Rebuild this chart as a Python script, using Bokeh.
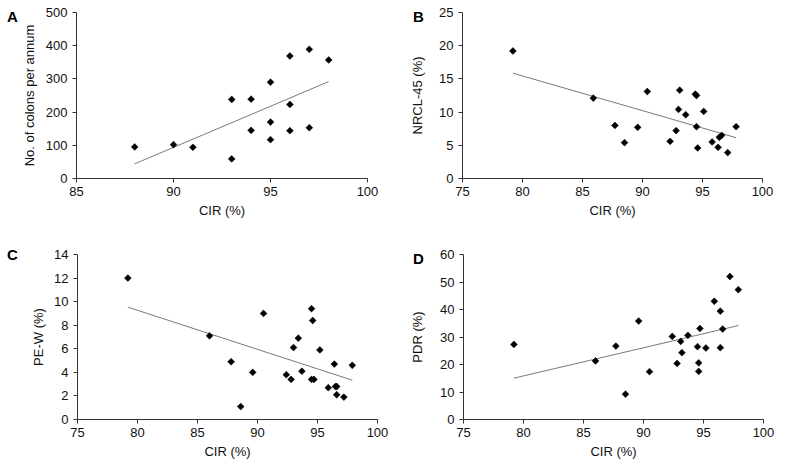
import numpy as np
from bokeh.plotting import figure
from bokeh.layouts import column, row
from bokeh.models import FixedTicker, Range1d, Div
from bokeh.embed import file_html
from bokeh.resources import INLINE

# ---- Panel A: colonoscopies per annum vs CIR ----
cir_a = [88, 90, 91, 93, 93, 94, 94, 95, 95, 95, 96, 96, 96, 97, 97, 98]
colons_a = [95, 102, 94, 238, 59, 239, 145, 290, 170, 117, 369, 223, 144, 389, 153, 357]

# ---- Panel B: NRCL-45 vs CIR ----
cir_b = [79.2, 85.9, 87.7, 88.5, 89.6, 90.4, 92.3, 92.8, 93.0, 93.1, 93.6,
         94.4, 94.5, 94.5, 94.6, 95.1, 95.8, 96.3, 96.4, 96.6, 97.1, 97.8]
nrcl_b = [19.2, 12.1, 8.0, 5.4, 7.7, 13.1, 5.6, 7.2, 10.4, 13.3, 9.6,
          12.7, 12.5, 7.8, 4.6, 10.1, 5.5, 4.7, 6.2, 6.5, 3.9, 7.8]

# ---- Panel C: PE-W vs CIR ----
cir_c = [79.2, 86.0, 87.8, 88.6, 89.6, 90.5, 92.4, 92.8, 93.0, 93.4, 93.7,
         94.5, 94.6, 94.5, 94.7, 95.2, 95.9, 96.4, 96.5, 96.6, 96.6, 97.2, 97.9]
pew_c = [12.0, 7.1, 4.9, 1.1, 4.0, 9.0, 3.8, 3.4, 6.1, 6.9, 4.1,
         9.4, 8.4, 3.4, 3.4, 5.9, 2.7, 4.7, 2.8, 2.8, 2.1, 1.9, 4.6]

# ---- Panel D: PDR vs CIR ----
cir_d = [79.2, 86.0, 87.7, 88.5, 89.6, 90.5, 92.4, 92.8, 93.1, 93.2, 93.7,
         94.5, 94.6, 94.6, 94.7, 95.2, 95.9, 96.4, 96.4, 96.6, 97.2, 97.9]
pdr_d = [27.3, 21.3, 26.7, 9.2, 35.8, 17.4, 30.2, 20.4, 28.4, 24.3, 30.6,
         26.5, 20.6, 17.5, 33.1, 26.0, 43.0, 39.4, 26.1, 32.9, 52.0, 47.2]

x_ticks_a = [85, 90, 95, 100]
x_ticks_bcd = [75, 80, 85, 90, 95, 100]
y_ticks_a = [0, 100, 200, 300, 400, 500]
y_ticks_b = [0, 5, 10, 15, 20, 25]
y_ticks_c = [0, 2, 4, 6, 8, 10, 12, 14]
y_ticks_d = [0, 10, 20, 30, 40, 50, 60]

panel_letters = ["A", "B", "C", "D"]

FONT = "Liberation Sans"
TXT = "#111111"
AXC = "#333333"


def make_panel(xs, ys, xticks, yticks, ylabel, width, height,
               bl, br, bt, bb, ylab_stand):
    p = figure(width=width, height=height,
               x_range=Range1d(xticks[0], xticks[-1]),
               y_range=Range1d(yticks[0], yticks[-1]),
               output_backend="svg", toolbar_location=None,
               min_border_left=bl, min_border_right=br,
               min_border_top=bt, min_border_bottom=bb)
    p.outline_line_color = None
    p.xgrid.visible = False
    p.ygrid.visible = False
    p.background_fill_color = "white"
    p.border_fill_color = "white"
    for ax in (p.xaxis[0], p.yaxis[0]):
        ax.major_tick_out = 4
        ax.major_tick_in = 0
        ax.minor_tick_out = 0
        ax.minor_tick_in = 0
        ax.axis_line_color = AXC
        ax.major_tick_line_color = AXC
        ax.major_label_text_font = FONT
        ax.major_label_text_font_size = "13px"
        ax.major_label_text_color = TXT
        ax.axis_label_text_font = FONT
        ax.axis_label_text_font_size = "13px"
        ax.axis_label_text_font_style = "normal"
        ax.axis_label_text_color = TXT
    p.xaxis.ticker = FixedTicker(ticks=xticks)
    p.yaxis.ticker = FixedTicker(ticks=yticks)
    p.xaxis.axis_label = "CIR (%)"
    p.yaxis.axis_label = ylabel
    p.xaxis.major_label_standoff = 4
    p.xaxis.axis_label_standoff = 4
    p.yaxis.major_label_standoff = 5
    p.yaxis.axis_label_standoff = ylab_stand

    fit = np.polyfit(xs, ys, 1)
    lx = np.array([min(xs), max(xs)])
    p.line(lx, np.polyval(fit, lx), line_color="#7a7a7a", line_width=1)
    p.scatter(xs, ys, marker="square", angle=np.pi / 4, size=4.8,
              fill_color="black", line_color="black", line_width=0.6)
    return p


pa = make_panel(cir_a, colons_a, x_ticks_a, y_ticks_a,
                "No. of colons per annum", 394, 240, 76, 27, 12, 62, 6)
pb = make_panel(cir_b, nrcl_b, x_ticks_bcd, y_ticks_b,
                "NRCL-45 (%)", 392, 240, 68, 24, 12, 62, 11)
pc = make_panel(cir_c, pew_c, x_ticks_bcd, y_ticks_c,
                "PE-W (%)", 394, 222, 77, 17, 12, 43, 5)
pd_ = make_panel(cir_d, pdr_d, x_ticks_bcd, y_ticks_d,
                 "PDR (%)", 392, 222, 69, 23, 14, 42, 12)

layout = column(row(pa, pb), row(pc, pd_))

letter_pos = [(7, 9), (413, 9), (7, 247), (413, 251)]
letter_divs = []
for letter, (lx_, ly_) in zip(panel_letters, letter_pos):
    letter_divs.append(Div(
        text=letter, width=20, height=18,
        styles={"position": "absolute", "left": f"{lx_}px", "top": f"{ly_}px",
                "font-family": "'Liberation Sans', Arial, sans-serif",
                "font-weight": "bold", "font-size": "15px",
                "line-height": "15px", "color": "black",
                "margin": "0", "padding": "0", "z-index": "10"}))

open("out.html", "w").write(file_html([layout] + letter_divs, INLINE))
